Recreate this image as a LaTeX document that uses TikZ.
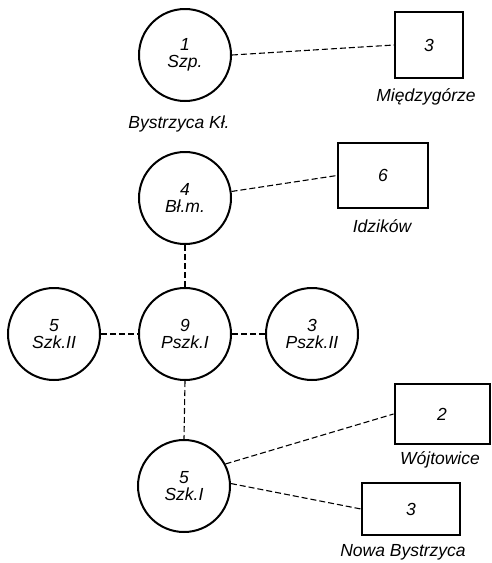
\documentclass[tikz,border=0pt]{standalone}
\usepackage{fontspec}
\setmainfont{Liberation Sans}
\begin{document}
\begin{tikzpicture}[x=1pt,y=-1pt,
  every node/.style={font=\fontsize{17.5}{17}\selectfont\itshape},
  town/.style={circle,draw,line width=2pt,minimum size=92pt,inner sep=0pt,align=center},
  village/.style={rectangle,draw,line width=2pt,inner sep=0pt},
  place/.style={inner sep=0pt},
  link/.style={line width=1.1pt,dash pattern=on 6pt off 3pt}]
\useasboundingbox (0,0) rectangle (491,563);
% circles
\node[town] (c1) at (185,55) {1\\Szp.};
\node[town] (c4) at (185,198) {4\\Bł.m.};
\node[town] (c5) at (54,334) {5\\Szk.II};
\node[town] (c9) at (185,334) {9\\Pszk.I};
\node[town] (c3) at (312,334) {3\\Pszk.II};
\node[town] (cb) at (184,486) {5\\Szk.I};
% boxes
\node[village,minimum width=68pt,minimum height=66pt] (b1) at (429,45) {3};
\node[village,minimum width=90pt,minimum height=65pt] (b2) at (383,175.5) {6};
\node[village,minimum width=95pt,minimum height=60pt] (b3) at (442,414) {2};
\node[village,minimum width=98pt,minimum height=52pt] (b4) at (411,509) {3};
% labels
\node[place] (l1) at (179,124) {Bystrzyca Kł.};
\node[place] (l2) at (426,97) {Międzygórze};
\node[place] (l3) at (382,226) {Idzików};
\node[place] (l4) at (440,460) {Wójtowice};
\node[place] (l5) at (403,552) {Nowa Bystrzyca};
% links
\draw[link] (c1.east) -- (b1.west);
\draw[link] (c4.8) -- (b2.west);
\draw[link] (c4.south) -- (c9.north);
\draw[link] (c9.south) -- (cb.north);
\draw[link] (c5.east) -- (c9.west);
\draw[link] (c9.east) -- (c3.west);
\draw[link] (cb.28) -- (b3.west);
\draw[link] (cb.3) -- (b4.west);
\end{tikzpicture}
\end{document}
